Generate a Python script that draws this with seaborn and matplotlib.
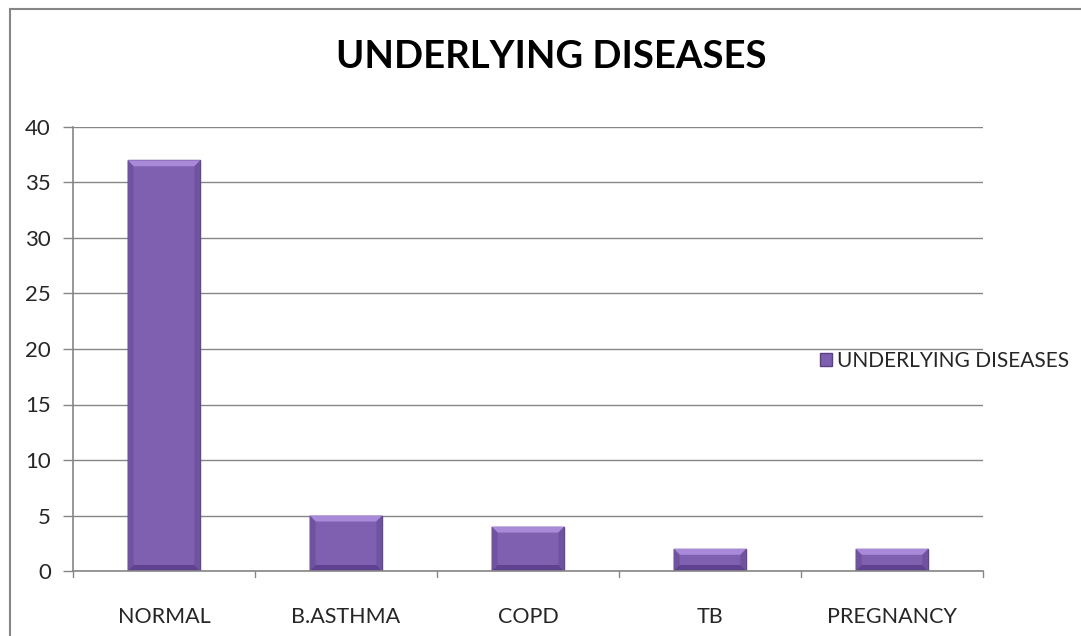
import matplotlib
matplotlib.use("Agg")
import matplotlib.pyplot as plt
from matplotlib.patches import Rectangle, Polygon
import seaborn as sns
import pandas as pd

categories = ["NORMAL", "B.ASTHMA", "COPD", "TB", "PREGNANCY"]
counts = [37, 5, 4, 2, 2]
series_name = "UNDERLYING DISEASES"
y_ticks = [0, 5, 10, 15, 20, 25, 30, 35, 40]

sns.set_theme(style="white")
plt.rcParams["font.family"] = ["Lato", "DejaVu Sans"]

W, H = 1081, 636
fig = plt.figure(figsize=(W / 100, H / 100), dpi=100)
ax = fig.add_axes([73 / W, 1 - 571 / H, (983 - 73) / W, (571 - 127) / H])

df = pd.DataFrame({"category": categories, "count": counts})
sns.barplot(data=df, x="category", y="count", ax=ax, color="#7f60b0",
            width=0.4, saturation=1, edgecolor="#5a3f86", linewidth=1.0,
            label=series_name)

ax.set_xlim(-0.5, len(categories) - 0.5)
ax.set_ylim(0, 40)
ax.set_yticks(y_ticks)
ax.set_yticklabels([str(v) for v in y_ticks], fontsize=16)
ax.set_xticks(range(len(categories)))
ax.set_xticklabels(categories, fontsize=15.5)
ax.tick_params(axis="x", length=0, pad=26)
ax.tick_params(axis="y", length=7, width=1, color="#868686", left=True, pad=9)

# category boundary ticks below the x axis
for b in [i - 0.5 for i in range(len(categories) + 1)]:
    ax.plot([b, b], [0, -0.55], color="#868686", lw=1, clip_on=False)

ax.set_xlabel("")
ax.set_ylabel("")
ax.grid(axis="y", color="#868686", lw=1)
ax.grid(axis="x", visible=False)
ax.set_axisbelow(True)
for s in ["top", "right"]:
    ax.spines[s].set_visible(False)
for s in ["left", "bottom"]:
    ax.spines[s].set_color("#868686")
    ax.spines[s].set_linewidth(1.2)

# bevel shading on each bar: light top edge, darker sides and bottom
fig.canvas.draw()
to_data = ax.transData.inverted()
for p in list(ax.patches):
    x0, y0 = p.get_x(), p.get_y()
    x1, y1 = x0 + p.get_width(), y0 + p.get_height()
    (dx0, dy0), (dx1, dy1) = ax.transData.transform([(x0, y0), (x1, y1)])
    bev = min(6, (dy1 - dy0) / 3)
    (ix0, iy0), (ix1, iy1) = to_data.transform([(dx0 + bev, dy0 + bev),
                                                (dx1 - bev, dy1 - bev)])
    faces = [
        ([(x0, y1), (x1, y1), (ix1, iy1), (ix0, iy1)], "#a98ad8"),
        ([(x0, y0), (x1, y0), (ix1, iy0), (ix0, iy0)], "#5e4290"),
        ([(x0, y0), (ix0, iy0), (ix0, iy1), (x0, y1)], "#6f52a0"),
        ([(x1, y0), (ix1, iy0), (ix1, iy1), (x1, y1)], "#6f52a0"),
    ]
    for pts, c in faces:
        ax.add_patch(Polygon(pts, closed=True, facecolor=c, edgecolor="none",
                             zorder=p.get_zorder() + 0.1))

fig.text(551 / W, 1 - 57 / H, "UNDERLYING DISEASES", ha="center", va="center",
         fontsize=27.5, fontweight="bold", color="black")

handles, labels = ax.get_legend_handles_labels()
ax.legend(handles[:1], labels[:1], loc="center left",
          bbox_to_anchor=(810 / W, 1 - 361 / H), bbox_transform=fig.transFigure,
          frameon=False, fontsize=15, handlelength=0.55, handleheight=0.55,
          handletextpad=0.25, borderpad=0)

# outer chart border
fig.patches.append(Rectangle((10 / W, -0.01), 1.01, 1 - 9 / H + 0.01,
                             transform=fig.transFigure, fill=False,
                             edgecolor="#868686", lw=1.5))

fig.savefig("out.png", dpi=100, facecolor="white")
